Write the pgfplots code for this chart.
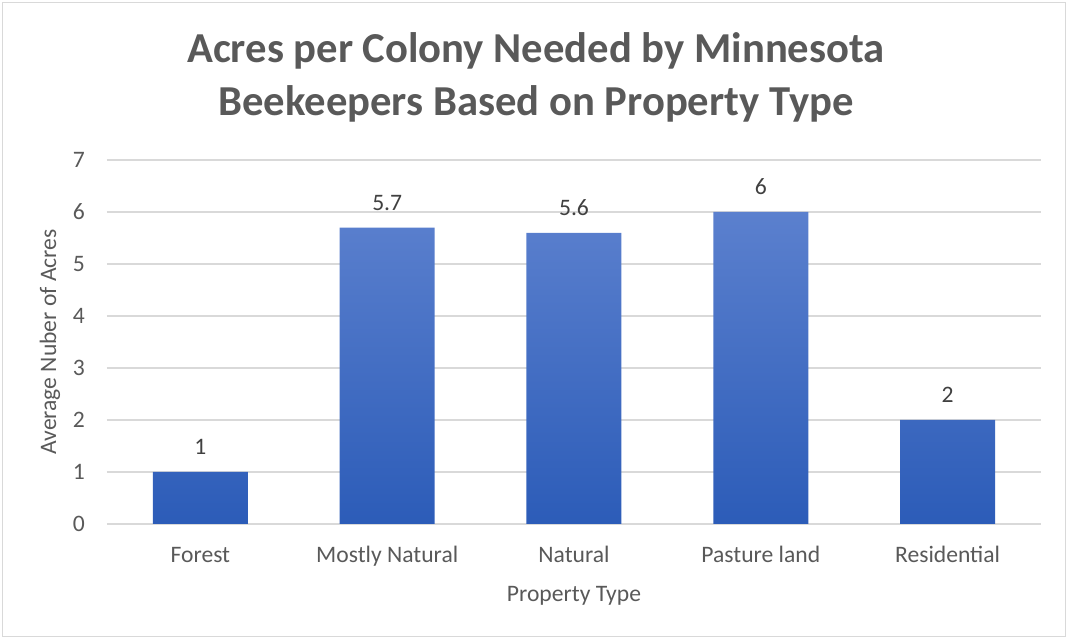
\documentclass[border=0pt]{standalone}
\usepackage{pgfplots}
\pgfplotsset{compat=1.18}
\usepackage{fontspec}
\setmainfont{Carlito}
\definecolor{gridc}{HTML}{D9D9D9}
\definecolor{txt}{HTML}{595959}
\definecolor{lab}{HTML}{404040}
\definecolor{bartop}{HTML}{5B80CE}
\definecolor{barbot}{HTML}{2C5CB8}
\begin{document}
\begin{tikzpicture}[x=1pt,y=1pt]
\path[use as bounding box] (-80.25,-86.25) rectangle (720.75,393);
\draw[gridc, line width=1.2pt] (-78.3,-84.3) rectangle (718.8,391.0);
\begin{axis}[
  scale only axis, width=700.5pt, height=273pt, at={(0,0)}, anchor=south west,
  xmin=-0.5, xmax=4.5, ymin=0, ymax=7, ytick={0,...,7},
  xtick=data,
  xticklabels={Forest,Mostly Natural,Natural,Pasture land,Residential},
  axis line style={draw=none},
  major tick length=0pt,
  ymajorgrids, grid style={gridc, line width=0.9pt},
  ybar, bar width=71.25pt,
  /pgf/number format/assume math mode=true,
  tick label style={font=\fontsize{17.7}{21}\selectfont, text=txt, inner sep=0pt},
  xticklabel style={anchor=base, yshift=-29.25pt},
  yticklabel style={anchor=east, xshift=-16.5pt},
  nodes near coords,
  every node near coord/.append style={font=\fontsize{17.7}{21}\selectfont, text=lab, anchor=base, yshift=12.75pt, inner sep=0pt},
  xlabel={Property Type},
  ylabel={Average Nuber of Acres},
  every axis x label/.style={at={(axis description cs:0.5,0)}, anchor=center, yshift=-54pt, font=\fontsize{17.7}{21}\selectfont, text=txt},
  every axis y label/.style={at={(axis description cs:0,0.5)}, anchor=center, rotate=90, yshift=42.75pt, font=\fontsize{17.7}{21}\selectfont, text=txt},
]
\addplot[draw=none, top color=bartop, bottom color=barbot] coordinates {(0,1) (1,5.7) (2,5.6) (3,6) (4,2)};
\end{axis}
\node[anchor=base, font=\fontsize{32}{38}\selectfont\bfseries, text=txt] at (321.75,345.75) {Acres per Colony Needed by Minnesota};
\node[anchor=base, font=\fontsize{32}{38}\selectfont\bfseries, text=txt] at (321.75,306) {Beekeepers Based on Property Type};
\end{tikzpicture}
\end{document}
